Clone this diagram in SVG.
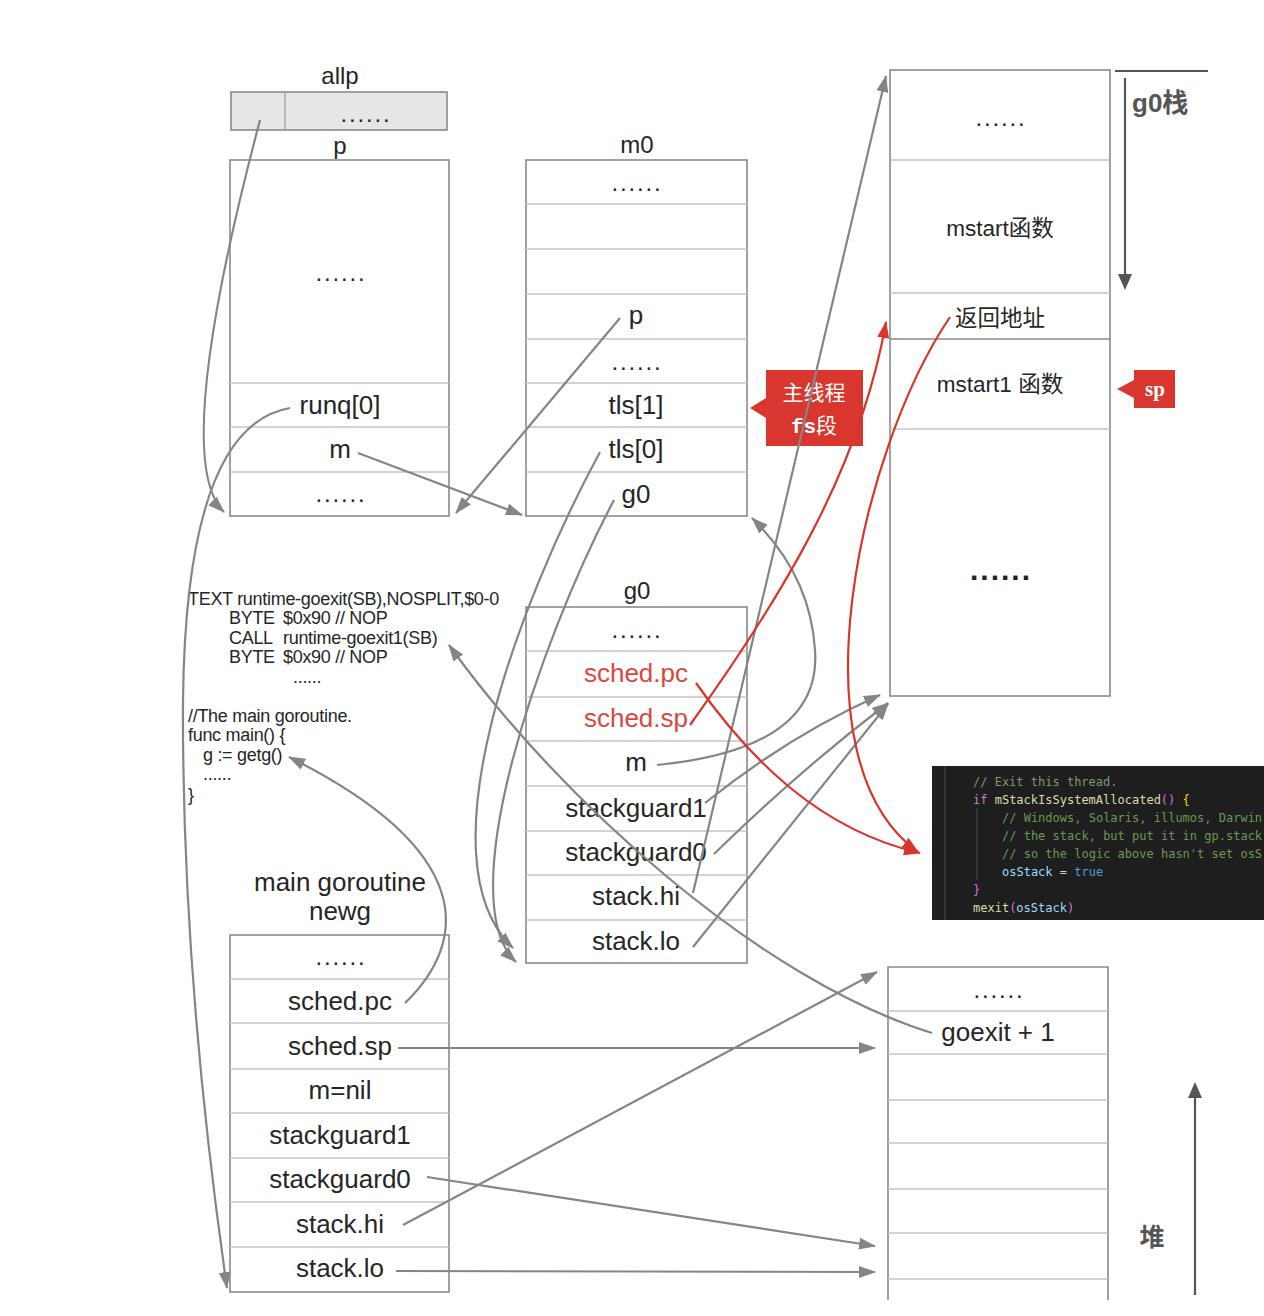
<svg xmlns="http://www.w3.org/2000/svg" width="1264" height="1316" viewBox="0 0 1264 1316">
<defs>
<style>
.box{fill:#fff;stroke:#8a8a8a;stroke-width:1.6}
.row{stroke:#c4c4c4;stroke-width:1.3}
.t{font-family:"Liberation Sans","Noto Sans CJK SC",sans-serif;font-size:26px;fill:#262626;text-anchor:middle}
.lbl{font-family:"Liberation Sans","Noto Sans CJK SC",sans-serif;font-size:24px;fill:#262626;text-anchor:middle}
.dot{font-family:"Liberation Sans",sans-serif;font-size:24px;fill:#262626;text-anchor:middle;letter-spacing:1.8px}
.cj{font-family:"Liberation Sans","Noto Sans CJK SC",sans-serif;font-size:22.5px;fill:#262626;text-anchor:middle}
.red{fill:#d9473f}
.code{font-family:"Liberation Sans",sans-serif;font-size:18px;fill:#262626;letter-spacing:-0.3px}
.mono{font-family:"DejaVu Sans Mono","Liberation Mono",monospace;font-size:12px}
.c{stroke:#858585;stroke-width:2.2;fill:none;marker-end:url(#ah)}
.r{stroke:#d9352c;stroke-width:2.2;fill:none;marker-end:url(#rh)}
</style>
<marker id="ah" markerUnits="userSpaceOnUse" markerWidth="18" markerHeight="14" refX="16" refY="7" orient="auto">
<path d="M0,1 L17,7 L0,13 z" fill="#858585"/>
</marker>
<marker id="rh" markerUnits="userSpaceOnUse" markerWidth="18" markerHeight="14" refX="16" refY="7" orient="auto">
<path d="M0,1 L17,7 L0,13 z" fill="#d9352c"/>
</marker>
</defs>
<rect width="1264" height="1316" fill="#fff"/>

<g id="allp">
<text class="lbl" x="340" y="84">allp</text>
<rect x="231" y="92" width="216" height="38" fill="#e6e6e6" stroke="#8a8a8a" stroke-width="1.6"/>
<line x1="285" y1="92" x2="285" y2="130" stroke="#a0a0a0" stroke-width="1.3"/>
<text class="dot" x="366" y="122">......</text>
</g>

<g id="p">
<text class="lbl" x="340" y="154">p</text>
<rect class="box" x="230" y="160" width="219" height="356"/>
<line class="row" x1="230" y1="383" x2="449" y2="383"/>
<line class="row" x1="230" y1="427" x2="449" y2="427"/>
<line class="row" x1="230" y1="472" x2="449" y2="472"/>
<text class="dot" x="341" y="281">......</text>
<text class="t" x="340" y="414">runq[0]</text>
<text class="t" x="340" y="458">m</text>
<text class="dot" x="341" y="502">......</text>
</g>

<g id="m0">
<text class="lbl" x="637" y="153">m0</text>
<rect class="box" x="526" y="160" width="221" height="356"/>
<line class="row" x1="526" y1="204" x2="747" y2="204"/>
<line class="row" x1="526" y1="249" x2="747" y2="249"/>
<line class="row" x1="526" y1="294" x2="747" y2="294"/>
<line class="row" x1="526" y1="339" x2="747" y2="339"/>
<line class="row" x1="526" y1="383" x2="747" y2="383"/>
<line class="row" x1="526" y1="427" x2="747" y2="427"/>
<line class="row" x1="526" y1="472" x2="747" y2="472"/>
<text class="dot" x="637" y="191">......</text>
<text class="t" x="636" y="324">p</text>
<text class="dot" x="637" y="370">......</text>
<text class="t" x="636" y="414">tls[1]</text>
<text class="t" x="636" y="458">tls[0]</text>
<text class="t" x="636" y="503">g0</text>
</g>

<g id="g0">
<text class="lbl" x="637" y="599">g0</text>
<rect class="box" x="526" y="607" width="221" height="356"/>
<line class="row" x1="526" y1="651" x2="747" y2="651"/>
<line class="row" x1="526" y1="697" x2="747" y2="697"/>
<line class="row" x1="526" y1="741" x2="747" y2="741"/>
<line class="row" x1="526" y1="786" x2="747" y2="786"/>
<line class="row" x1="526" y1="831" x2="747" y2="831"/>
<line class="row" x1="526" y1="875" x2="747" y2="875"/>
<line class="row" x1="526" y1="920" x2="747" y2="920"/>
<text class="dot" x="637" y="638">......</text>
<text class="t red" x="636" y="682">sched.pc</text>
<text class="t red" x="636" y="727">sched.sp</text>
<text class="t" x="636" y="771">m</text>
<text class="t" x="636" y="817">stackguard1</text>
<text class="t" x="636" y="861">stackguard0</text>
<text class="t" x="636" y="905">stack.hi</text>
<text class="t" x="636" y="950">stack.lo</text>
</g>

<g id="g0stack">
<rect class="box" x="890" y="70" width="220" height="626"/>
<line class="row" x1="890" y1="160" x2="1110" y2="160"/>
<line class="row" x1="890" y1="293" x2="1110" y2="293"/>
<line x1="890" y1="339" x2="1110" y2="339" stroke="#8a8a8a" stroke-width="1.6"/>
<line class="row" x1="890" y1="429" x2="1110" y2="429"/>
<text class="dot" x="1001" y="126">......</text>
<text class="cj" x="1000" y="236">mstart函数</text>
<text class="cj" x="1000" y="326">返回地址</text>
<text class="cj" x="1000" y="392">mstart1 函数</text>
<text x="1001" y="580" font-family="Liberation Sans,sans-serif" font-size="30" font-weight="bold" fill="#222" text-anchor="middle" letter-spacing="2">......</text>
</g>

<g id="g0stack-dir">
<line x1="1115" y1="71" x2="1208" y2="71" stroke="#555" stroke-width="2"/>
<line x1="1125" y1="78" x2="1125" y2="276" stroke="#555" stroke-width="2.2"/>
<path d="M1118,274 L1125,290 L1132,274 z" fill="#555"/>
<text x="1132" y="112" font-family="Liberation Sans,'Noto Sans CJK SC',sans-serif" font-size="26" font-weight="bold" fill="#555">g0栈</text>
</g>

<g id="sp-tag">
<path d="M1134,370 H1175 V408 H1134 V398 L1117,389 L1134,380 z" fill="#d8362f"/>
<text x="1155" y="396" font-family="'Liberation Serif',serif" font-size="21" font-weight="bold" fill="#fff" text-anchor="middle">sp</text>
</g>

<g id="fs-tag">
<path d="M766,370 H863 V446 H766 V418 L750,408 L766,398 z" fill="#d8362f"/>
<text x="814" y="400" font-family="'Liberation Sans','Noto Sans CJK SC',sans-serif" font-size="21" fill="#fff" text-anchor="middle">主线程</text>
<text x="814" y="433" font-family="'Liberation Mono','Noto Sans CJK SC',monospace" font-size="21" font-weight="bold" fill="#fff" text-anchor="middle">fs<tspan font-family="'Noto Sans CJK SC',sans-serif" font-weight="normal">段</tspan></text>
</g>

<g id="asm-code">
<text class="code" x="188" y="605">TEXT runtime-goexit(SB),NOSPLIT,$0-0</text>
<text class="code" y="624"><tspan x="229">BYTE</tspan><tspan x="283">$0x90 // NOP</tspan></text>
<text class="code" y="644"><tspan x="229">CALL</tspan><tspan x="283">runtime-goexit1(SB)</tspan></text>
<text class="code" y="663"><tspan x="229">BYTE</tspan><tspan x="283">$0x90 // NOP</tspan></text>
<text class="code" x="293" y="683" font-size="13" fill="#666" letter-spacing="0.5">......</text>
<text class="code" x="188" y="722">//The main goroutine.</text>
<text class="code" x="188" y="741">func main() {</text>
<text class="code" x="203" y="761">g := getg()</text>
<text class="code" x="203" y="780" font-size="13" fill="#666" letter-spacing="0.5">......</text>
<text class="code" x="188" y="801">}</text>
</g>

<g id="go-code">
<rect x="932" y="766" width="332" height="154" fill="#1e1e1e"/>
<line x1="945" y1="766" x2="945" y2="920" stroke="#4a4a4a" stroke-width="1"/>
<line x1="977" y1="808" x2="977" y2="880" stroke="#4a4a4a" stroke-width="1"/>
<text class="mono" x="973" y="786" fill="#7c9a6a">// Exit this thread.</text>
<text class="mono" x="973" y="804"><tspan fill="#c586c0">if</tspan><tspan fill="#d4d4d4"> </tspan><tspan fill="#dcdcaa">mStackIsSystemAllocated</tspan><tspan fill="#da70d6">()</tspan><tspan fill="#d4d4d4"> </tspan><tspan fill="#ffd700">{</tspan></text>
<text class="mono" x="1002" y="822" fill="#6a9955">// Windows, Solaris, illumos, Darwin</text>
<text class="mono" x="1002" y="840" fill="#6a9955">// the stack, but put it in gp.stack</text>
<text class="mono" x="1002" y="858" fill="#6a9955">// so the logic above hasn't set osS</text>
<text class="mono" x="1002" y="876"><tspan fill="#9cdcfe">osStack</tspan><tspan fill="#d4d4d4"> = </tspan><tspan fill="#569cd6">true</tspan></text>
<text class="mono" x="973" y="894" fill="#da70d6">}</text>
<text class="mono" x="973" y="912"><tspan fill="#dcdcaa">mexit</tspan><tspan fill="#da70d6">(</tspan><tspan fill="#9cdcfe">osStack</tspan><tspan fill="#da70d6">)</tspan></text>
</g>

<g id="newg">
<text class="t" x="340" y="891">main goroutine</text>
<text class="t" x="340" y="920">newg</text>
<rect class="box" x="230" y="935" width="219" height="357"/>
<line class="row" x1="230" y1="979" x2="449" y2="979"/>
<line class="row" x1="230" y1="1023" x2="449" y2="1023"/>
<line class="row" x1="230" y1="1069" x2="449" y2="1069"/>
<line class="row" x1="230" y1="1113" x2="449" y2="1113"/>
<line class="row" x1="230" y1="1158" x2="449" y2="1158"/>
<line class="row" x1="230" y1="1202" x2="449" y2="1202"/>
<line class="row" x1="230" y1="1247" x2="449" y2="1247"/>
<text class="dot" x="341" y="965">......</text>
<text class="t" x="340" y="1010">sched.pc</text>
<text class="t" x="340" y="1055">sched.sp</text>
<text class="t" x="340" y="1099">m=nil</text>
<text class="t" x="340" y="1144">stackguard1</text>
<text class="t" x="340" y="1188">stackguard0</text>
<text class="t" x="340" y="1233">stack.hi</text>
<text class="t" x="340" y="1277">stack.lo</text>
</g>

<g id="heap">
<path d="M888,1300 V967 H1108 V1300" fill="none" stroke="#8a8a8a" stroke-width="1.6"/>
<line class="row" x1="888" y1="1011" x2="1108" y2="1011"/>
<line class="row" x1="888" y1="1054" x2="1108" y2="1054"/>
<line class="row" x1="888" y1="1100" x2="1108" y2="1100"/>
<line class="row" x1="888" y1="1143" x2="1108" y2="1143"/>
<line class="row" x1="888" y1="1189" x2="1108" y2="1189"/>
<line class="row" x1="888" y1="1233" x2="1108" y2="1233"/>
<line class="row" x1="888" y1="1279" x2="1108" y2="1279"/>
<text class="dot" x="999" y="998">......</text>
<text class="t" x="998" y="1041">goexit + 1</text>
</g>

<g id="heap-dir">
<line x1="1195" y1="1295" x2="1195" y2="1096" stroke="#555" stroke-width="2.2"/>
<path d="M1188,1098 L1195,1082 L1202,1098 z" fill="#555"/>
<text x="1152" y="1246" font-family="'Noto Sans CJK SC',sans-serif" font-size="25" font-weight="bold" fill="#555" text-anchor="middle">堆</text>
</g>

<g id="connectors">
<path class="c" d="M260,120 C215,290 180,470 224,512"/>
<path class="c" d="M290,408 C220,420 185,520 183,700 C182,900 200,1100 227,1288"/>
<path class="c" d="M358,453 L522,515"/>
<path class="c" d="M620,318 L456,513"/>
<path class="c" d="M600,452 C520,600 420,860 513,948"/>
<path class="c" d="M614,500 C540,640 450,900 516,962"/>
<path class="c" d="M657,765 C760,755 820,720 815,650 C812,600 790,555 752,518"/>
<path class="c" d="M693,893 L886,76"/>
<path class="c" d="M705,803 Q790,735 880,695"/>
<path class="c" d="M714,854 Q800,770 888,703"/>
<path class="c" d="M693,947 L888,704"/>
<path class="c" d="M932,1033 C760,980 560,800 449,645"/>
<path class="c" d="M405,1003 C470,940 475,850 289,757"/>
<path class="c" d="M398,1048 L875,1048"/>
<path class="c" d="M427,1177 L875,1246"/>
<path class="c" d="M403,1225 L877,972"/>
<path class="c" d="M396,1271 L875,1272"/>
<path class="r" d="M696,683 C750,760 820,830 920,853"/>
<path class="r" d="M690,725 C780,600 860,470 886,322"/>
<path class="r" d="M950,317 C860,450 790,760 918,852"/>
</g>
</svg>
